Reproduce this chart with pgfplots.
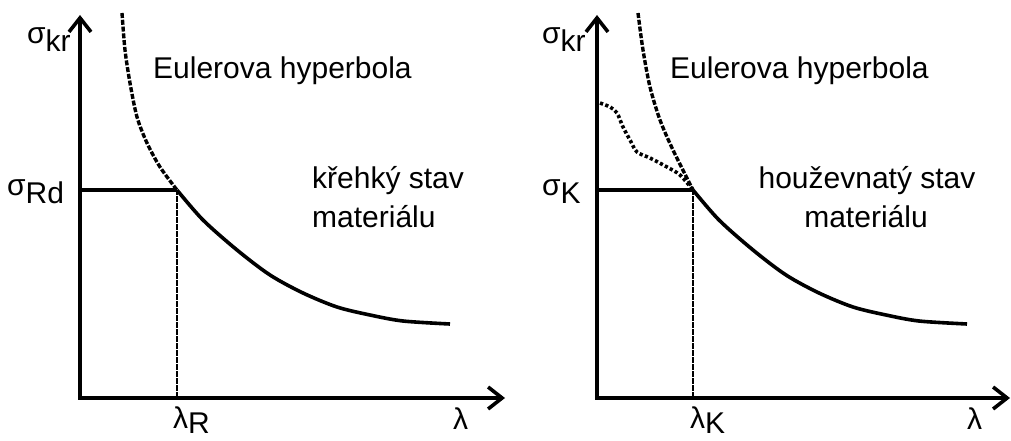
\documentclass[border=0pt]{standalone}
\usepackage{fontspec}
\setmainfont{Liberation Sans}
\usepackage{pgfplots}
\pgfplotsset{compat=1.18}
\usetikzlibrary{arrows.meta}
\begin{document}
\begin{tikzpicture}[x=1pt,y=1pt,font=\fontsize{30}{36}\selectfont]
\path[use as bounding box] (0,0) rectangle (1011,440);
\pgfplotsset{
  euler/.style={
    scale only axis, axis lines=left, clip=false,
    xmin=0, ymin=0, ymax=383,
    height=383pt,
    xtick=\empty, ytick=\empty,
    axis line style={line width=3.6pt, line cap=rect,
      -{Straight Barb[length=14pt,width=22pt,line width=3.6pt]}},
  },
  curve/.style={line width=3.6pt, smooth, black},
  eul/.style={line width=3.4pt, smooth, black, dash pattern=on 5pt off 1.8pt},
  dot/.style={line width=3.6pt, smooth, black, dash pattern=on 3.2pt off 2.4pt},
  guide/.style={line width=1.4pt, black, dash pattern=on 6pt off 1pt},
}
% left panel
\begin{axis}[euler, at={(80pt,42pt)}, anchor=south west, xmax=425, width=425pt]
\addplot[line width=3.6pt] coordinates {(0,208) (97,208)};
\addplot[guide] coordinates {(97,0) (97,208)};
\addplot[eul] coordinates {(42,385) (45,348) (50,315) (57,281) (67,255) (80,231) (97,208)};
\addplot[curve] coordinates {(97,208) (123,178) (157,148) (190,123) (223,105) (257,91) (290,83) (323,77) (370,74)};
\end{axis}
% right panel
\begin{axis}[euler, at={(597pt,42pt)}, anchor=south west, xmax=413, width=413pt]
\addplot[line width=3.6pt] coordinates {(0,208) (96,208)};
\addplot[guide] coordinates {(96,0) (96,208)};
\addplot[eul] coordinates {(41,385) (46,348) (53,311) (63,278) (76,248) (96,208)};
\addplot[dot] coordinates {(3,295) (13,291) (20,285) (26,271) (33,258) (40,246) (53,240) (70,231) (83,223) (96,208)};
\addplot[curve] coordinates {(96,208) (122,178) (156,148) (189,123) (222,105) (256,91) (289,83) (322,77) (370,74)};
\end{axis}
% texts
\node[anchor=base west, inner sep=0] at (153,361) {Eulerova hyperbola};
\node[anchor=base west, inner sep=0] at (670,361) {Eulerova hyperbola};
\node[anchor=base west, inner sep=0] at (312,252) {křehký stav};
\node[anchor=base west, inner sep=0] at (312,213) {materiálu};
\node[anchor=base, inner sep=0] at (867,252) {houževnatý stav};
\node[anchor=base, inner sep=0] at (866,213) {materiálu};
\node[anchor=base west, inner sep=0] at (27,396) {σ\raisebox{-8pt}{kr}};
\node[anchor=base west, inner sep=0] at (7,245) {σ\raisebox{-8pt}{Rd}};
\node[anchor=base west, inner sep=0] at (542,396) {σ\raisebox{-8pt}{kr}};
\node[anchor=base west, inner sep=0] at (542,245) {σ\raisebox{-8pt}{K}};
\node[anchor=base west, inner sep=0] at (173,12) {λ\raisebox{-5pt}{R}};
\node[anchor=base west, inner sep=0] at (453,11) {λ};
\node[anchor=base west, inner sep=0] at (690,12) {λ\raisebox{-5pt}{K}};
\node[anchor=base west, inner sep=0] at (967,11) {λ};
\end{tikzpicture}
\end{document}
